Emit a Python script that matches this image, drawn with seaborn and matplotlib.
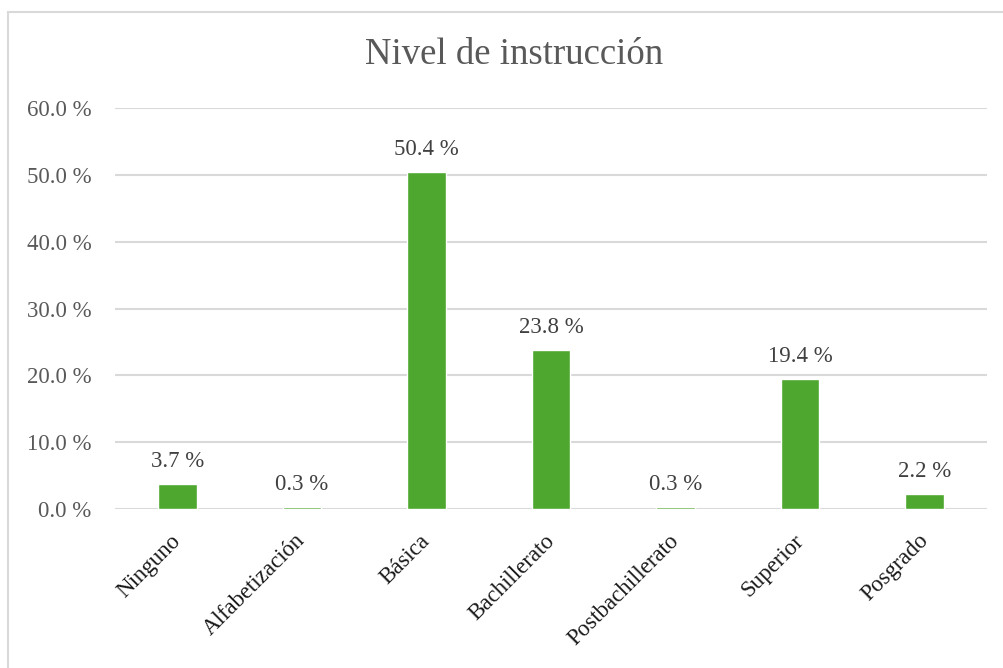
import matplotlib
matplotlib.use("Agg")
import matplotlib.pyplot as plt
import matplotlib.transforms as mtransforms
import seaborn as sns
import pandas as pd
from matplotlib.patches import Rectangle

# Education level shares (%)
categories = ["Ninguno", "Alfabetización", "Básica", "Bachillerato",
              "Postbachillerato", "Superior", "Posgrado"]
values = [3.7, 0.3, 50.4, 23.8, 0.3, 19.4, 2.2]
yticks = [0, 10, 20, 30, 40, 50, 60]

df = pd.DataFrame({"nivel": categories, "pct": values})

sns.set_theme(style="white")
plt.rcParams["font.family"] = ["Liberation Serif", "DejaVu Serif"]

fig = plt.figure(figsize=(10.04, 6.68), dpi=100)
ax = fig.add_axes([0.1145, 0.238, 0.8685, 0.600])

bar_color = "#4EA72E"
sns.barplot(data=df, x="nivel", y="pct", color=bar_color, width=0.31,
            saturation=1, ax=ax, zorder=3)

ax.set_ylim(0, 60)
ax.set_xlim(-0.5, len(categories) - 0.5)
ax.set_yticks(yticks)
ax.set_yticklabels([f"{t:.1f} %" for t in yticks], color="#595959", fontsize=16.5)
ax.yaxis.grid(True, color="#D9D9D9", linewidth=1.5, zorder=0)
ax.xaxis.grid(False)
for s in ax.spines.values():
    s.set_visible(False)
ax.tick_params(axis="y", length=0, pad=17)
ax.tick_params(axis="x", length=0, pad=8)
ax.set_xlabel("")
ax.set_ylabel("")
ax.set_xticks(range(len(categories)))
ax.set_xticklabels(categories, rotation=45, ha="right", rotation_mode="anchor",
                   fontsize=16.5, color="#1a1a1a")
shift = mtransforms.ScaledTranslation(-0.07, -0.10, fig.dpi_scale_trans)
for lbl in ax.get_xticklabels():
    lbl.set_transform(lbl.get_transform() + shift)

for i, v in enumerate(values):
    ax.annotate(f"{v:.1f} %", (i, v), xytext=(0, 9), textcoords="offset points",
                ha="center", va="bottom", fontsize=16.5, color="#404040")

fig.text(0.512, 0.918, "Nivel de instrucción", ha="center", va="center",
         fontsize=26.5, color="#595959")

fig.patches.append(Rectangle((8 / 1004, -0.05), 1.1, (668 - 12) / 668 + 0.05,
                             transform=fig.transFigure, fill=False,
                             edgecolor="#D9D9D9", linewidth=1.5))

fig.savefig("out.png", dpi=100, facecolor="white")
